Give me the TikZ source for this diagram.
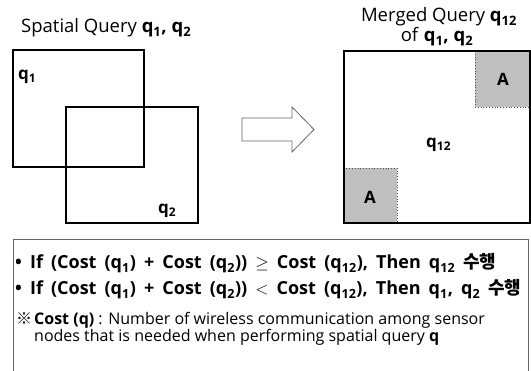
\documentclass[tikz,border=0pt]{standalone}
\usepackage{fontspec}
\setmainfont{Open Sans}
\newfontfamily\kr{Noto Sans CJK KR}
\newcommand\myrulefont{\fontsize{18}{22}\selectfont\bfseries\spaceskip=0.45em\relax}
\begin{document}
\begin{tikzpicture}[x=1pt,y=-1pt,
  sq/.style={draw=black,line width=1.2pt},
  gbox/.style={draw=black!70,dotted,line width=0.8pt,fill=black!25},
  lbl/.style={font=\fontsize{17}{20}\selectfont\bfseries,inner sep=0pt,anchor=base west},
  ttl/.style={font=\fontsize{18.5}{20}\selectfont,inner sep=0pt},
  rule/.style={font=\myrulefont,inner sep=0pt,anchor=base west},
  note/.style={font=\fontsize{16}{18}\selectfont,inner sep=0pt,anchor=base west}]
\useasboundingbox (0,0) rectangle (531,371);
% left
\node[ttl,anchor=base west] (t1) at (21,33) {Spatial Query \textbf{q\textsubscript{1}, q\textsubscript{2}}};
\draw[sq] (13,50) rectangle (144,167);
\draw[sq] (66,107) rectangle (198,223);
\node[lbl] (l1) at (18,80) {q\textsubscript{1}};
\node[lbl] (l2) at (158,214) {q\textsubscript{2}};
% arrow
\draw[draw=black!60,line width=0.8pt,fill=white] (242,118) -- (292,118) -- (292,107) -- (314,129.5) -- (292,152) -- (292,141) -- (242,141) -- cycle;
% right
\node[ttl,anchor=base] (t2) at (439,22) {Merged Query \textbf{q\textsubscript{12}}};
\node[ttl,anchor=base] (t3) at (437,42) {of \textbf{q\textsubscript{1}, q\textsubscript{2}}};
\draw[gbox] (475,51) rectangle (530,107);
\draw[gbox] (344,168) rectangle (397,223);
\draw[sq] (344,51) rectangle (530,223);
\node[lbl] (a1) at (497,86) {A};
\node[lbl] (a2) at (364,204) {A};
\node[lbl] (q12) at (426,148) {q\textsubscript{12}};
% bottom box
\draw[draw=black!60,line width=0.9pt] (13,239) rectangle (528,385);
\node[rule] (r1) at (15,269) {\textbullet\ If (Cost (q\textsubscript{1}) + Cost (q\textsubscript{2})) $\geq$ Cost (q\textsubscript{12}), Then q\textsubscript{12} {\kr\bfseries 수행}};
\node[rule] (r2) at (15,295) {\textbullet\ If (Cost (q\textsubscript{1}) + Cost (q\textsubscript{2})) $<$ Cost (q\textsubscript{12}), Then q\textsubscript{1}, q\textsubscript{2} {\kr\bfseries 수행}};
\node[note] (n0) at (16,325) {{\kr ※}};
\node[note] (n1) at (34,325) {\textbf{Cost (q)} : Number of wireless communication among sensor};
\node[note] (n2) at (34,342) {nodes that is needed when performing spatial query \textbf{q}};
\end{tikzpicture}
\end{document}
